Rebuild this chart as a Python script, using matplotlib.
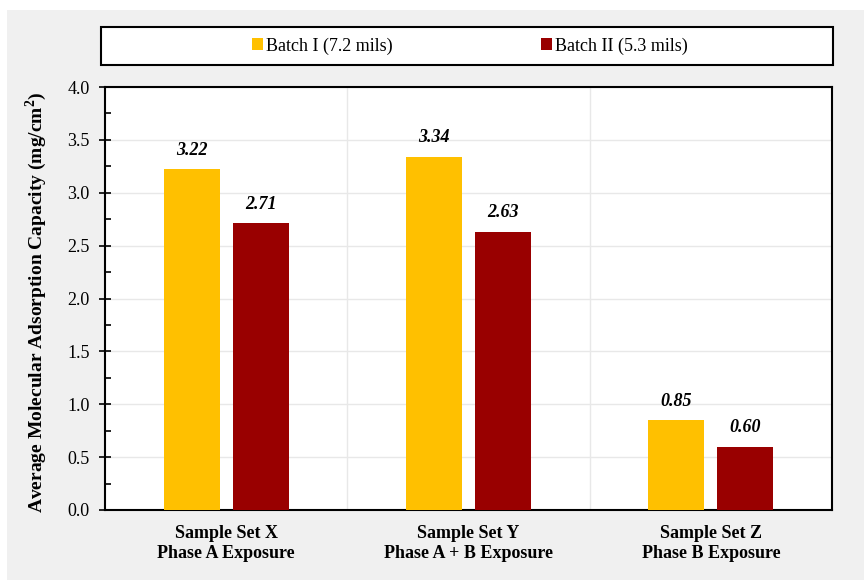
import matplotlib.pyplot as plt
import numpy as np
from matplotlib.patches import Rectangle
from matplotlib.ticker import MultipleLocator, FormatStrFormatter

plt.rcParams['font.family'] = ['Liberation Serif', 'DejaVu Serif']

# 数据
categories = ["Sample Set X\nPhase A Exposure",
              "Sample Set Y\nPhase A + B Exposure",
              "Sample Set Z\nPhase B Exposure"]
batch1 = [3.22, 3.34, 0.85]
batch2 = [2.71, 2.63, 0.60]
series_names = ["Batch I (7.2 mils)", "Batch II (5.3 mils)"]
colors = ["#FFC000", "#990000"]

fig = plt.figure(figsize=(8.64, 5.80), dpi=100)
fig.patch.set_facecolor('white')
# 灰色背景
fig.patches.append(Rectangle((7/864, 0), 1, 1 - 10/580, transform=fig.transFigure,
                             facecolor='#f0f0f0', edgecolor='none', zorder=-10))

ax = fig.add_axes([105/864, 1 - 510/580, (832 - 105)/864, (510 - 87)/580])
x = np.arange(len(categories))
w = 0.231
off = 0.143
b1 = ax.bar(x - off, batch1, w, color=colors[0], label=series_names[0], zorder=3)
b2 = ax.bar(x + off, batch2, w, color=colors[1], label=series_names[1], zorder=3)

for bars, vals in ((b1, batch1), (b2, batch2)):
    for r, v in zip(bars, vals):
        ax.text(r.get_x() + r.get_width()/2, v + 0.1, "%.2f" % v, ha='center', va='bottom',
                fontsize=13, fontweight='bold', style='italic')

ax.set_xlim(-0.5, 2.5)
ax.set_ylim(0, 4.0)
ax.yaxis.set_major_locator(MultipleLocator(0.5))
ax.yaxis.set_minor_locator(MultipleLocator(0.25))
ax.yaxis.set_major_formatter(FormatStrFormatter('%.1f'))
ax.set_xticks(x)
ax.set_xticklabels(categories, fontsize=13, fontweight='bold')
ax.set_xticks([0.5, 1.5], minor=True)
ax.tick_params(axis='x', which='both', length=0, pad=11)
ax.tick_params(axis='y', which='major', direction='inout', length=8, width=1.2,
               labelsize=13, pad=7)
ax.tick_params(axis='y', which='minor', direction='in', length=4, width=1.2)
ax.grid(True, axis='y', which='major', color='#e8e8e8', lw=1, zorder=0)
ax.grid(True, axis='x', which='minor', color='#e8e8e8', lw=1, zorder=0)
for s in ax.spines.values():
    s.set_linewidth(1.5)
    s.set_color('black')
ax.set_ylabel("Average Molecular Adsorption Capacity (mg/cm$^\\mathregular{2}$)",
              fontsize=14, fontweight='bold')
ax.yaxis.set_label_coords(-0.077, 0.49)

# 图例
fig.patches.append(Rectangle((101/864, 1 - 65/580), (833 - 101)/864, 38/580,
                             transform=fig.transFigure, facecolor='white',
                             edgecolor='black', lw=1.5, zorder=1))
fig.legend(handles=[b1, b2], loc='center', bbox_to_anchor=(470/864, 1 - 46/580), ncol=2,
           frameon=False, fontsize=13, handlelength=0.6, handleheight=0.6,
           handletextpad=0.2, columnspacing=8.2)

plt.savefig('out.png', dpi=100)
